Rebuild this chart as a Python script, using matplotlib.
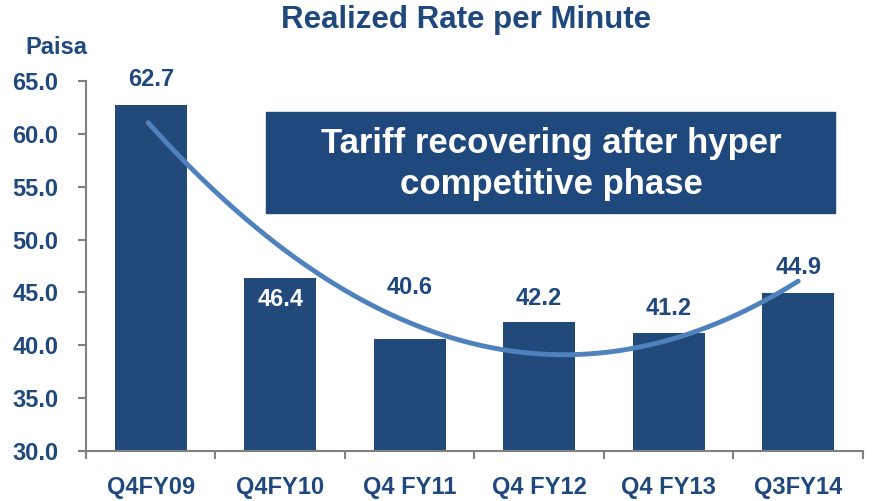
import numpy as np
import matplotlib.pyplot as plt
from matplotlib.patches import Rectangle

plt.rcParams['font.family'] = ['Liberation Sans', 'DejaVu Sans']

categories = ['Q4FY09', 'Q4FY10', 'Q4 FY11', 'Q4 FY12', 'Q4 FY13', 'Q3FY14']
rate = [62.7, 46.4, 40.6, 42.2, 41.2, 44.9]

dark = '#1F497D'
bar_c = '#214A7B'
line_c = '#4F81BD'
grey = '#808080'

fig = plt.figure(figsize=(8.73, 5.01), dpi=100)
ax = fig.add_axes([0.0985, 0.0998, 0.89, 0.7385])

x = np.arange(len(categories))
ax.bar(x, rate, width=0.555, color=bar_c, zorder=2)

# value labels (offset in pixels; second bar labelled inside)
offsets = [26, -22, 51, 24, 24, 26]
for xi, v, off in zip(x, rate, offsets):
    col = 'white' if off < 0 else dark
    ax.annotate('%.1f' % v, (xi, v), xytext=(0, off * 0.72), textcoords='offset points',
                ha='center', va='center', fontsize=17, fontweight='bold', color=col, zorder=4)

# polynomial trendline
p = np.polyfit(x, rate, 2)
xs = np.linspace(-0.02, 5.0, 200)
ax.plot(xs, np.polyval(p, xs), color=line_c, lw=3.5, solid_capstyle='round', zorder=3)

ax.set_xlim(-0.5, 5.5)
ax.set_ylim(30, 65)
ax.set_yticks(np.arange(30, 66, 5))
ax.set_yticklabels(['%.1f' % t for t in np.arange(30, 66, 5)])
ax.set_xticks(x)
ax.set_xticklabels(categories)
ax.set_xticks(np.arange(-0.5, 6, 1), minor=True)
ax.tick_params(axis='x', which='major', length=0, pad=18)
ax.tick_params(axis='x', which='minor', length=6, width=1.5, color=grey, direction='out')
ax.tick_params(axis='y', length=6, width=1.5, color=grey, direction='out', pad=14)
for lab in ax.get_xticklabels() + ax.get_yticklabels():
    lab.set_fontsize(17)
    lab.set_fontweight('bold')
    lab.set_color(dark)
for s in ['top', 'right']:
    ax.spines[s].set_visible(False)
for s in ['left', 'bottom']:
    ax.spines[s].set_color(grey)
    ax.spines[s].set_linewidth(1.5)

fig.text(0.534, 0.96, 'Realized Rate per Minute', ha='center', va='center',
         fontsize=22.5, fontweight='bold', color=dark)
fig.text(0.065, 0.906, 'Paisa', ha='center', va='center',
         fontsize=17, fontweight='bold', color=dark)

fig.patches.append(Rectangle((266 / 873, 1 - 213 / 501), 569 / 873, 101 / 501,
                             transform=fig.transFigure, color=dark, zorder=5))
fig.text(551 / 873, 1 - 164 / 501, 'Tariff recovering after hyper\ncompetitive phase',
         ha='center', va='center', fontsize=25, fontweight='bold', color='white',
         linespacing=1.27, zorder=6)

fig.savefig('out.png', dpi=100)
